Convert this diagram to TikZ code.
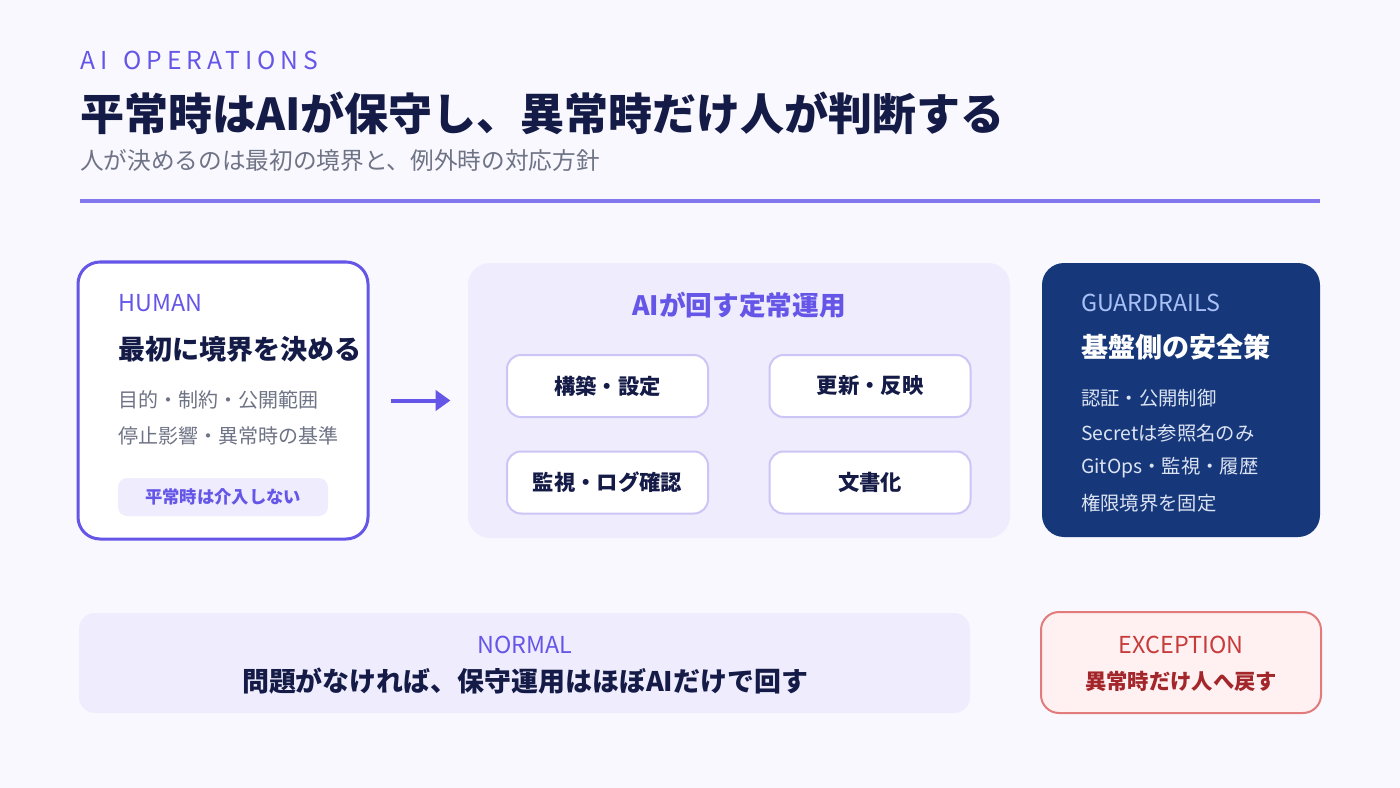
\documentclass[tikz,border=0pt]{standalone}
\usepackage{fontspec}
\setmainfont{Noto Sans CJK JP}
\newfontfamily\spacedfont[LetterSpace=20]{Noto Sans CJK JP}
\usetikzlibrary{arrows.meta,positioning}
\definecolor{bgtint}{HTML}{F8F8FE}
\definecolor{accent}{HTML}{6556E8}
\definecolor{navy}{HTML}{151B47}
\definecolor{subgray}{HTML}{6E7385}
\definecolor{rulepurple}{HTML}{8378EE}
\definecolor{panel}{HTML}{EEECFD}
\definecolor{taskline}{HTML}{CCC6F6}
\definecolor{guardblue}{HTML}{16387A}
\definecolor{guardlabel}{HTML}{A9C1F7}
\definecolor{guardtext}{HTML}{DCE3F3}
\definecolor{excfill}{HTML}{FFF1F1}
\definecolor{excline}{HTML}{E27B7B}
\definecolor{excred}{HTML}{C83B3B}
\definecolor{excdark}{HTML}{A3262B}
\newcommand{\pxsize}[1]{\fontsize{#1}{#1}\selectfont}
\tikzset{
  card/.style={rounded corners=16.5pt,inner sep=0pt},
  humancard/.style={card,draw=accent,line width=2.25pt,fill=white,minimum width=217.5pt,minimum height=207.75pt},
  aipanel/.style={card,fill=panel,minimum width=406.5pt,minimum height=206.25pt},
  guardcard/.style={card,fill=guardblue,minimum width=208.5pt,minimum height=205.5pt},
  taskbox/.style={rounded corners=10.5pt,draw=taskline,line width=1.5pt,fill=white,minimum width=150.75pt,
    minimum height=46.5pt,inner sep=0pt,font=\pxsize{16pt}\bfseries,text=navy},
  pill/.style={rounded corners=7pt,fill=panel,minimum width=157.5pt,minimum height=28.5pt,inner sep=0pt,
    font=\pxsize{13pt}\bfseries,text=accent},
  normalbar/.style={rounded corners=12pt,fill=panel,minimum width=668.25pt,minimum height=75pt,inner sep=0pt},
  excbox/.style={rounded corners=13.5pt,draw=excline,line width=1.5pt,fill=excfill,minimum width=210pt,
    minimum height=75.75pt,inner sep=0pt},
  kicker/.style={anchor=west,inner sep=0pt,font=\spacedfont\pxsize{18.5pt},text=accent},
  headline/.style={anchor=west,inner sep=0pt,font=\pxsize{33pt}\bfseries,text=navy},
  subline/.style={anchor=west,inner sep=0pt,font=\pxsize{17.75pt},text=subgray},
  tagtxt/.style={anchor=west,inner sep=0pt,font=\pxsize{17.5pt}},
  cardhead/.style={anchor=west,inner sep=0pt,font=\pxsize{20.3pt}\bfseries},
  cardbody/.style={anchor=west,inner sep=0pt,font=\pxsize{15pt},text=subgray},
  guardbody/.style={anchor=west,inner sep=0pt,font=\pxsize{14.5pt},text=guardtext},
  panelhead/.style={inner sep=0pt,font=\pxsize{20pt}\bfseries,text=accent},
  bottomhead/.style={inner sep=0pt,font=\pxsize{20.2pt}\bfseries,text=navy},
  exchead/.style={inner sep=0pt,font=\pxsize{16pt}\bfseries,text=excdark},
  rulebar/.style={line width=3pt,draw=rulepurple},
  flowarrow/.style={-{Triangle[length=11pt,width=15pt]},line width=3pt,draw=accent}
}
\begin{document}
\begin{tikzpicture}[x=0.75pt,y=-0.75pt]
  \fill[bgtint] (0,0) rectangle (1400,788);
  \useasboundingbox (0,0) rectangle (1400,788);
  % header
  \node[kicker] (kicker) at (80,60) {AI\hspace{12pt}OPERATIONS};
  \node[headline] (headline) at (80,113) {平常時はAIが保守し、異常時だけ人が判断する};
  \node[subline] (subline) at (80,161) {人が決めるのは最初の境界と、例外時の対応方針};
  \draw[rulebar] (80,201) -- (1320,201);
  % human side
  \node[humancard] (human) at (223,400.5) {};
  \node[tagtxt,text=accent] (humantag) at (118,303) {HUMAN};
  \node[cardhead,text=navy] (humanhead) at (118,349) {最初に境界を決める};
  \node[cardbody] (humanl1) at (118,400) {目的・制約・公開範囲};
  \node[cardbody] (humanl2) at (118,436) {停止影響・異常時の基準};
  \node[pill] (pill) at (223,497) {平常時は介入しない};
  % AI routine
  \node[aipanel] (ops) at (739,400.5) {};
  \node[panelhead] (opshead) at (739,305) {AIが回す定常運用};
  \node[taskbox] (build) at (607.5,386) {構築・設定};
  \node[taskbox] (update) at (870,386) {更新・反映};
  \node[taskbox] (watch) at (607.5,482.5) {監視・ログ確認};
  \node[taskbox] (docs) at (870,482.5) {文書化};
  \draw[flowarrow] ([xshift=16pt]human.east) -- ([xshift=-13pt]ops.west);
  % guardrails
  \node[guardcard] (guard) at (1181,400) {};
  \node[tagtxt,text=guardlabel] (guardtag) at (1081,303) {GUARDRAILS};
  \node[cardhead,text=white] (guardhead) at (1081,347) {基盤側の安全策};
  \foreach \txt [count=\i] in {認証・公開制御,Secretは参照名のみ,GitOps・監視・履歴,権限境界を固定}
    \node[guardbody] (guard\i) at (1081,363+35*\i) {\txt};
  % bottom row
  \node[normalbar] (normal) at (524.5,663) {};
  \node[tagtxt,anchor=center,text=accent] (normaltag) at (525,645) {NORMAL};
  \node[bottomhead] (normalhead) at (525,681) {問題がなければ、保守運用はほぼAIだけで回す};
  \node[excbox] (exc) at (1181,662.5) {};
  \node[tagtxt,anchor=center,text=excred] (exctag) at (1181,645) {EXCEPTION};
  \node[exchead] (exchead) at (1181,681) {異常時だけ人へ戻す};
\end{tikzpicture}
\end{document}
